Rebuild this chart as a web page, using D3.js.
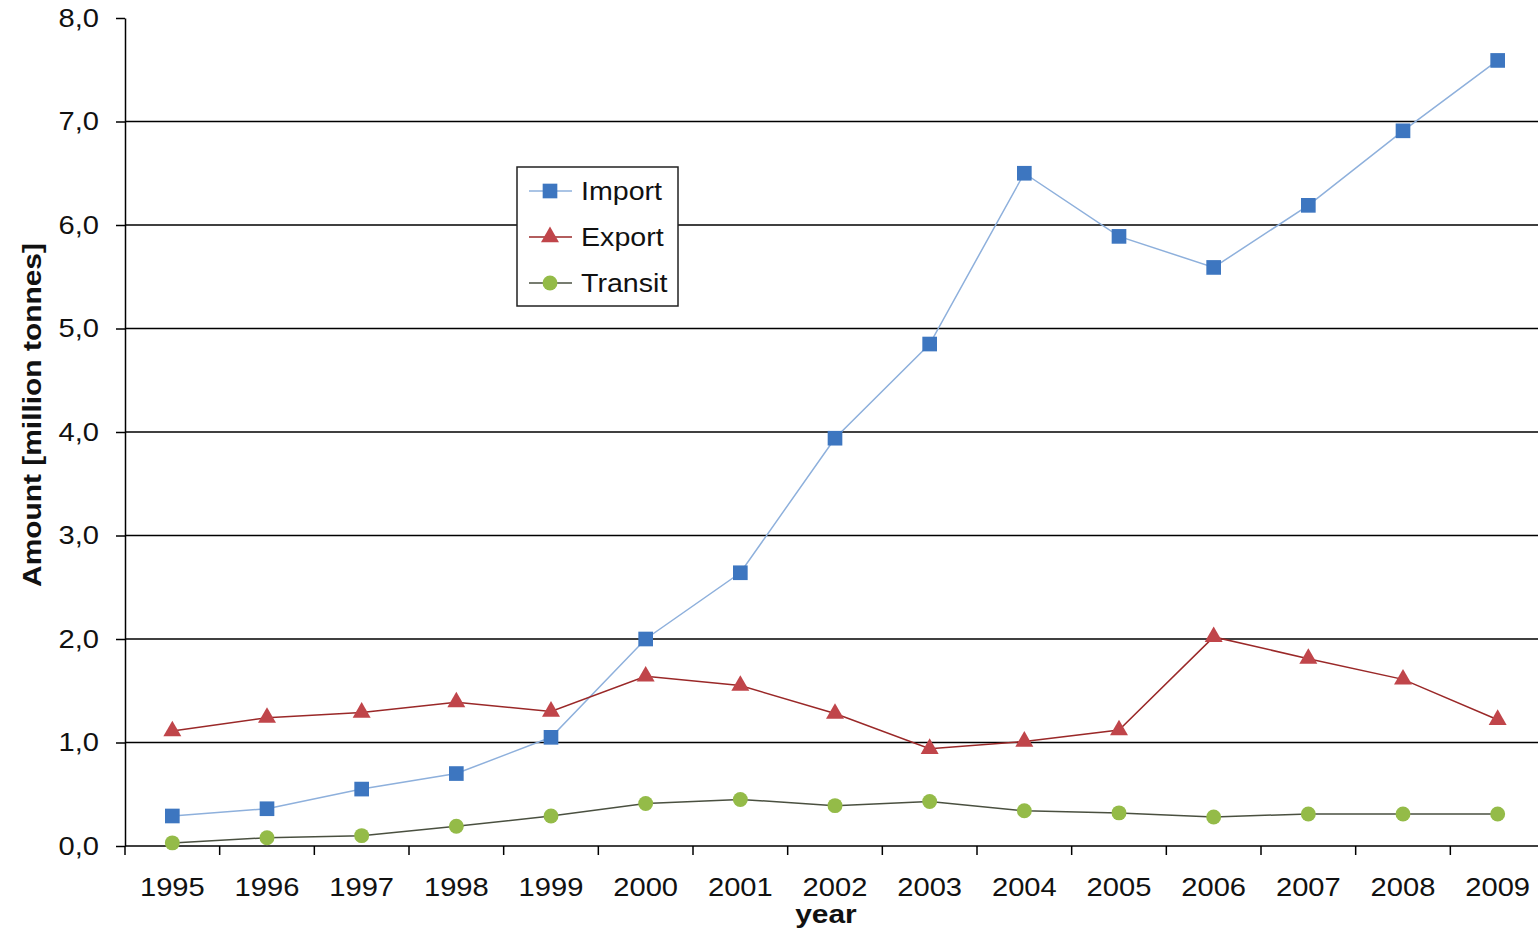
<!DOCTYPE html>
<html><head><meta charset="utf-8">
<script src="https://cdn.jsdelivr.net/npm/d3@7"></script>
<style>body{margin:0;background:#fff;} svg{display:block;font-family:"Liberation Sans",Arial,sans-serif;}</style>
</head><body>
<svg id="chart" width="1538" height="933"></svg>
<script>
const years = ["1995","1996","1997","1998","1999","2000","2001","2002","2003","2004","2005","2006","2007","2008","2009"];
const importVals = [0.29,0.36,0.55,0.70,1.05,2.00,2.64,3.94,4.85,6.50,5.89,5.59,6.19,6.91,7.59];
const exportVals = [1.11,1.24,1.29,1.39,1.30,1.64,1.55,1.28,0.94,1.01,1.12,2.02,1.81,1.61,1.22];
const transitVals = [0.03,0.08,0.10,0.19,0.29,0.41,0.45,0.39,0.43,0.34,0.32,0.28,0.31,0.31,0.31];
const yTicks = [0,1,2,3,4,5,6,7,8];
const seriesNames = ["Import","Export","Transit"];

const svg = d3.select("#chart");
const pLeft = 125, pRight = 1545, pTop = 18, pBottom = 846;
const x = d3.scaleBand().domain(years).range([pLeft, pRight]);
const y = d3.scaleLinear().domain([0, 8]).range([pBottom, pTop]);
const fmt = d => d.toFixed(1).replace(".", ",");

function stretch(sel, f) {
  sel.each(function() {
    const L = this.getComputedTextLength();
    this.setAttribute("textLength", L * f);
    this.setAttribute("lengthAdjust", "spacingAndGlyphs");
  });
}

// gridlines
svg.append("g").selectAll("line").data(yTicks.filter(d => d > 0 && d < 8)).join("line")
  .attr("x1", pLeft).attr("x2", pRight).attr("y1", d => y(d)).attr("y2", d => y(d))
  .attr("stroke", "#000").attr("stroke-width", 1.5);

// y axis
const yAxis = svg.append("g").attr("transform", `translate(${pLeft},0)`)
  .call(d3.axisLeft(y).tickValues(yTicks).tickFormat(fmt).tickSize(9).tickSizeOuter(0));
yAxis.select(".domain").attr("stroke", "#000").attr("stroke-width", 1.5);
yAxis.selectAll(".tick line").attr("stroke", "#000").attr("stroke-width", 1.5);
yAxis.selectAll("text").attr("font-size", 26).attr("fill", "#111").attr("x", -26)
  .attr("font-family", '"Liberation Sans",Arial,sans-serif').call(stretch, 1.12);

// x axis with ticks between categories
const xAxisG = svg.append("g").attr("transform", `translate(0,${pBottom})`);
xAxisG.append("line").attr("x1", pLeft).attr("x2", pRight).attr("stroke", "#000").attr("stroke-width", 1.5);
const bounds = years.map(d => x(d)).concat([pRight]);
xAxisG.selectAll(".tk").data(bounds).join("line").attr("class","tk")
  .attr("x1", d => d).attr("x2", d => d).attr("y1", 0).attr("y2", 9)
  .attr("stroke", "#000").attr("stroke-width", 1.5);
xAxisG.selectAll(".lbl").data(years).join("text").attr("class","lbl")
  .attr("x", d => x(d) + x.bandwidth()/2).attr("y", 50)
  .attr("text-anchor", "middle").attr("font-size", 26).attr("fill", "#111").text(d => d)
  .call(stretch, 1.12);

// axis titles
svg.append("text").attr("x", 826).attr("y", 923).attr("text-anchor", "middle")
  .attr("font-size", 26).attr("font-weight", "bold").attr("fill", "#111").text("year").call(stretch, 1.15);
svg.append("text").attr("transform", "translate(41,415) rotate(-90)").attr("text-anchor", "middle")
  .attr("font-size", 26).attr("font-weight", "bold").attr("fill", "#111").text("Amount [million tonnes]").call(stretch, 1.15);

const cx = d => x(d) + x.bandwidth()/2;
const series = [
  {name: seriesNames[0], vals: importVals, line: "#8eb0dc", lw: 1.5, fill: "#3d76c0", sym: d3.symbolSquare, size: 215},
  {name: seriesNames[1], vals: exportVals, line: "#9a2828", lw: 1.5, fill: "#c0454a", sym: d3.symbolTriangle, size: 140},
  {name: seriesNames[2], vals: transitVals, line: "#4a5040", lw: 1.5, fill: "#94bb48", sym: d3.symbolCircle, size: 175}
];
const line = d3.line().x((d,i) => cx(years[i])).y(d => y(d));
series.forEach(s => {
  svg.append("path").datum(s.vals).attr("d", line).attr("fill", "none")
    .attr("stroke", s.line).attr("stroke-width", s.lw);
  svg.append("g").selectAll("path").data(s.vals).join("path")
    .attr("transform", (d,i) => `translate(${cx(years[i])},${y(d)})`)
    .attr("d", d3.symbol().type(s.sym).size(s.size)).attr("fill", s.fill);
});

// legend
const lg = svg.append("g");
lg.append("rect").attr("x", 517).attr("y", 167).attr("width", 161).attr("height", 139)
  .attr("fill", "#fff").attr("stroke", "#222").attr("stroke-width", 1.5);
series.forEach((s, i) => {
  const yy = 191 + i*46;
  lg.append("line").attr("x1", 529).attr("x2", 572).attr("y1", yy).attr("y2", yy)
    .attr("stroke", s.line).attr("stroke-width", 1.5);
  lg.append("path").attr("transform", `translate(550,${yy})`)
    .attr("d", d3.symbol().type(s.sym).size(s.size)).attr("fill", s.fill);
  lg.append("text").attr("x", 581).attr("y", yy + 9).attr("font-size", 26).attr("fill", "#111").text(s.name)
    .call(stretch, 1.1);
});
</script>
</body></html>
